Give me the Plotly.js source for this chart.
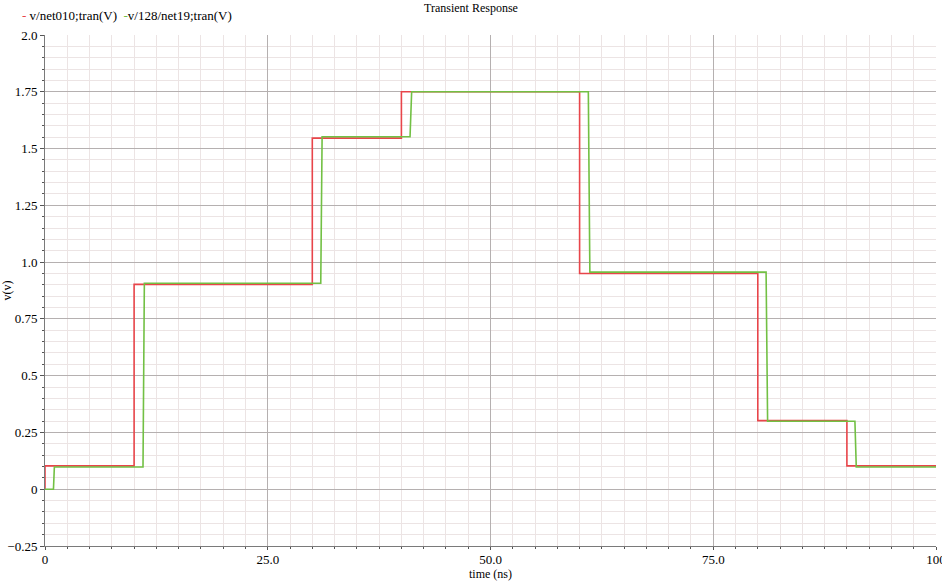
<!DOCTYPE html>
<html>
<head>
<meta charset="utf-8">
<script src="https://cdn.plot.ly/plotly-3.0.1.min.js"></script>
<style>html,body{margin:0;padding:0;background:#fff;}#chart{width:942px;height:581px;}</style>
</head>
<body>
<div id="chart"></div>
<script>
// Series 1: v/net010;tran(V)
const redName = "v/net010;tran(V)";
const redTime = [0, 0, 10, 30, 40, 60, 80, 90, 100];
const redVolt = [0, 0.103, 0.902, 1.546, 1.75, 0.95, 0.302, 0.103, 0.103];

// Series 2: v/128/net19;tran(V)
const greenName = "v/128/net19;tran(V)";
const greenTime = [0, 0.95, 1.05, 11.0, 11.15, 30.95, 31.1, 40.97, 41.15, 60.98, 61.15, 80.93, 81.1, 90.9, 91.05, 100];
const greenVolt = [0, 0, 0.098, 0.098, 0.907, 0.907, 1.552, 1.552, 1.75, 1.75, 0.956, 0.956, 0.299, 0.299, 0.098, 0.098];

// Axis ticks
const xTickVals = [0, 25, 50, 75, 100];
const xTickText = ["0", "25.0", "50.0", "75.0", "100"];
const yTickVals = [2.0, 1.75, 1.5, 1.25, 1.0, 0.75, 0.5, 0.25, 0, -0.25];
const yTickText = ["2.0", "1.75", "1.5", "1.25", "1.0", "0.75", "0.5", "0.25", "0", "\u22120.25"];

const redColor = "#e8454a";
const greenColor = "#72c044";
const fontFam = "Liberation Serif, Times New Roman, serif";

const traces = [
  {x: redTime, y: redVolt, name: redName, type: "scatter", mode: "lines",
   line: {color: redColor, width: 1.6, shape: "hv"}},
  {x: greenTime, y: greenVolt, name: greenName, type: "scatter", mode: "lines",
   line: {color: greenColor, width: 1.6}}
];

const layout = {
  width: 942, height: 581,
  margin: {l: 45, r: 6, t: 35, b: 35},
  paper_bgcolor: "#fff", plot_bgcolor: "#fff",
  showlegend: false,
  font: {family: fontFam, size: 13, color: "#000"},
  title: {text: "Transient Response", font: {family: fontFam, size: 12, color: "#000"},
          x: 0.5, xanchor: "center", y: 0.987, yanchor: "middle"},
  xaxis: {
    range: [0, 100], tickmode: "array", tickvals: xTickVals, ticktext: xTickText,
    showgrid: true, gridcolor: "#b5b0b0", gridwidth: 1,
    zeroline: false, showline: true, linecolor: "#7a7a7a", linewidth: 1,
    ticks: "outside", ticklen: 3, tickcolor: "#555",
    ticklabelstandoff: -2, ticklabeloverflow: "allow",
    tickfont: {family: fontFam, size: 13},
    minor: {dtick: 2.5, tick0: 0, showgrid: true, gridcolor: "#ece4e4", gridwidth: 1,
            ticks: "outside", ticklen: 2, tickcolor: "#555"},
    title: {text: "time (ns)", font: {family: fontFam, size: 12}, standoff: 0}
  },
  yaxis: {
    range: [-0.25, 2.0], tickmode: "array", tickvals: yTickVals, ticktext: yTickText,
    showgrid: true, gridcolor: "#b5b0b0", gridwidth: 1,
    zeroline: false, showline: true, linecolor: "#7a7a7a", linewidth: 1,
    ticks: "outside", ticklen: 4, tickcolor: "#555",
    tickfont: {family: fontFam, size: 13},
    minor: {dtick: 0.05, tick0: 0, showgrid: true, gridcolor: "#ece4e4", gridwidth: 1,
            ticks: "outside", ticklen: 2, tickcolor: "#555"},
    title: {text: "v(v)", font: {family: fontFam, size: 12}, standoff: 2}
  },
  annotations: [
    {xref: "paper", yref: "paper", x: -0.028, y: 1.039, xanchor: "left", yanchor: "middle",
     showarrow: false, font: {family: fontFam, size: 13, color: "#000"},
     text: '<span style="color:' + redColor + '">-</span> ' + redName +
           '  <span style="color:' + greenColor + '">-</span>' + greenName}
  ]
};

Plotly.newPlot("chart", traces, layout, {displayModeBar: false, staticPlot: true});
</script>
</body>
</html>
